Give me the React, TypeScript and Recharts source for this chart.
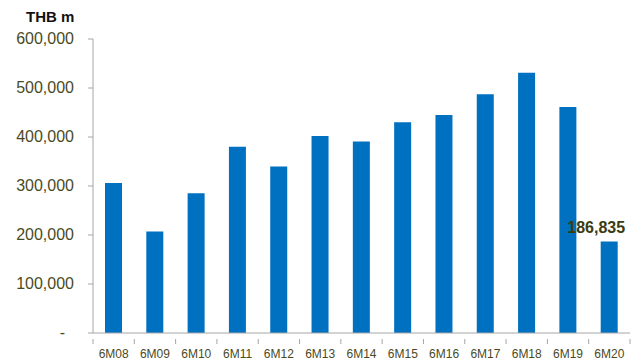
import React from "react";
import { BarChart, Bar, XAxis, YAxis, Text } from "recharts";

const categories = ["6M08", "6M09", "6M10", "6M11", "6M12", "6M13", "6M14", "6M15", "6M16", "6M17", "6M18", "6M19", "6M20"];
const values = [306000, 207000, 285000, 380000, 340000, 402000, 391000, 430000, 445000, 487000, 531000, 461000, 186835];
const yTicks = [0, 100000, 200000, 300000, 400000, 500000, 600000];
const unitLabel = "THB m";
const labelledIndex = 12;

const data = categories.map((c, i) => ({ name: c, value: values[i] }));

const TEXT_COLOR = "#4a4a1e";
const AXIS_COLOR = "#a6a6a6";
const FONT = "'Liberation Sans', Arial, sans-serif";

const fmt = (v: number) => (v === 0 ? "-" : v.toLocaleString("en-US"));

const YTick = (props: any) => {
  const { x, y, payload } = props;
  const v = payload.value;
  return (
    <text
      x={v === 0 ? x - 9 : x}
      y={y}
      dy={5}
      textAnchor="end"
      fill={TEXT_COLOR}
      fontSize={16}
      fontFamily={FONT}
    >
      {fmt(v)}
    </text>
  );
};

const XTick = (props: any) => {
  const { x, y, payload, index, visibleTicksCount } = props;
  const half = payload && payload.offset ? payload.offset : 537 / 13 / 2;
  const isLast = index === (visibleTicksCount ?? categories.length) - 1;
  return (
    <g>
      <line x1={x - half} x2={x - half} y1={y - 2} y2={y + 3} stroke={AXIS_COLOR} strokeWidth={1} />
      {isLast && (
        <line x1={x + half} x2={x + half} y1={y - 2} y2={y + 3} stroke={AXIS_COLOR} strokeWidth={1} />
      )}
      <text x={x} y={y} dy={17} textAnchor="middle" fill={TEXT_COLOR} fontSize={12} fontFamily={FONT}>
        {payload.value}
      </text>
    </g>
  );
};

const renderLabel = (props: any) => {
  const { x, y, width, index, value } = props;
  if (index !== labelledIndex) return null;
  return (
    <text
      x={x + width / 2 - 13}
      y={y - 8}
      textAnchor="middle"
      fill="#3b3b10"
      fontSize={16}
      fontWeight="bold"
      fontFamily={FONT}
    >
      {Number(value).toLocaleString("en-US")}
    </text>
  );
};

export default function App() {
  return (
    <div style={{ position: "absolute", left: 0, top: 0, width: 642, height: 362, background: "#fff" }}>
      <BarChart
        width={642}
        height={362}
        data={data}
        margin={{ top: 39, right: 12, bottom: 0, left: 0 }}
      >
        <text x={26} y={22} fontSize={15} fontWeight="bold" fill="#111" fontFamily={FONT}>
          {unitLabel}
        </text>
        <YAxis
          width={93}
          domain={[0, 600000]}
          ticks={yTicks}
          interval={0}
          tick={<YTick />}
          tickSize={5}
          tickMargin={14}
          axisLine={{ stroke: AXIS_COLOR }}
          tickLine={{ stroke: AXIS_COLOR }}
        />
        <XAxis
          dataKey="name"
          height={29}
          interval={0}
          tick={<XTick />}
          tickLine={false}
          axisLine={{ stroke: AXIS_COLOR }}
        />
        <Bar dataKey="value" fill="#0070c0" barSize={17} isAnimationActive={false} label={renderLabel} />
      </BarChart>
    </div>
  );
}
